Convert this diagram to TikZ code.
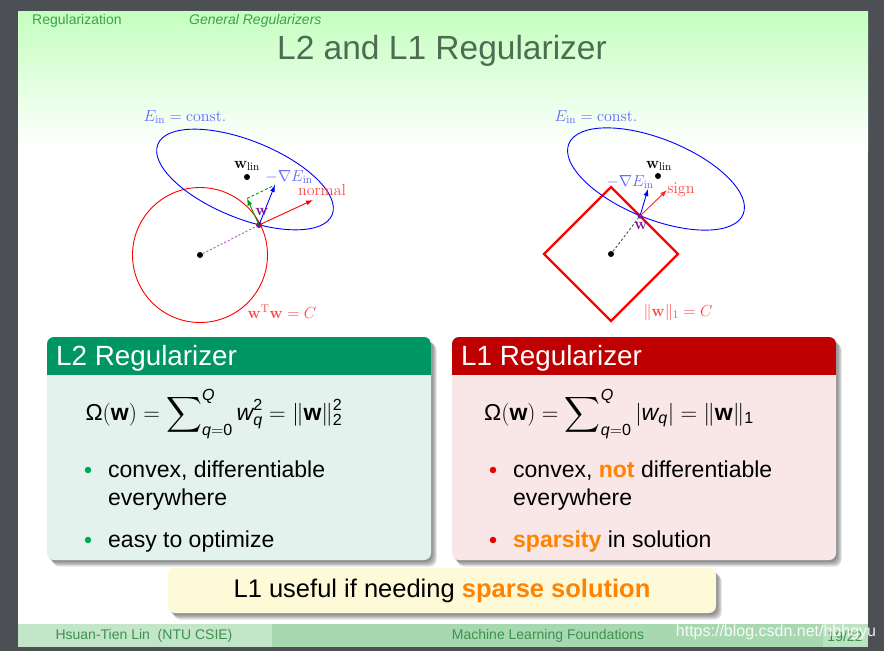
\RequirePackage{fix-cm}
\documentclass[tikz,border=0pt]{standalone}
\usepackage{amsmath}
\usepackage[no-math]{fontspec}
\setmainfont{Liberation Sans}
\usetikzlibrary{arrows.meta}
\definecolor{bgdark}{RGB}{76,79,84}
\definecolor{slidetop}{RGB}{196,255,190}
\definecolor{hdrgreen}{RGB}{60,160,80}
\definecolor{titlecol}{RGB}{78,108,84}
\definecolor{ltwo}{RGB}{0,150,100}
\definecolor{ltwobody}{RGB}{227,242,237}
\definecolor{lone}{RGB}{190,0,0}
\definecolor{lonebody}{RGB}{249,230,230}
\definecolor{noteyel}{RGB}{254,249,214}
\definecolor{footL}{RGB}{196,230,200}
\definecolor{footR}{RGB}{168,216,176}
\definecolor{footP}{RGB}{188,226,194}
\definecolor{foottxt}{RGB}{60,145,80}
\definecolor{orng}{RGB}{255,130,0}
\definecolor{lblue}{RGB}{100,100,255}
\definecolor{lred}{RGB}{255,70,70}
\definecolor{purp}{RGB}{130,20,150}
\definecolor{bulgreen}{RGB}{0,170,80}
\definecolor{bulred}{RGB}{235,0,0}
\tikzset{
  lbl/.style={font=\fontsize{16}{18}\selectfont, inner sep=0pt},
  pt/.style={circle, fill=black, inner sep=0pt, minimum size=6pt},
  arr/.style={-{Latex[length=7pt,width=5pt]}, line width=0.9pt},
  bul/.style={circle, inner sep=0pt, minimum size=6.5pt},
  btxt/.style={anchor=base west, inner sep=0pt, font=\fontsize{23}{27}\selectfont},
  boxtitle/.style={anchor=base west, inner sep=0pt, text=white, font=\fontsize{27.8}{30}\selectfont},
  shadowlayer/.style={fill=black, opacity=0.13, rounded corners=7pt}
}
\begin{document}
\begin{tikzpicture}[x=1pt,y=-1pt]
\useasboundingbox (0,0) rectangle (884,651);
% backgrounds
\fill[bgdark] (0,0) rectangle (884,651);
\shade[top color=slidetop, bottom color=white] (18,11) rectangle (868,150);
\fill[white] (18,150) rectangle (868,624);
\fill[footL] (18,624) rectangle (272,647);
\fill[footR] (272,624) rectangle (868,647);
\fill[footP] (823,624) rectangle (868,647);
% header
\node[anchor=west, inner sep=0pt, text=hdrgreen, font=\fontsize{14}{16}\selectfont] (sec) at (32,21) {Regularization};
\node[anchor=west, inner sep=0pt, text=hdrgreen, font=\fontsize{14}{16}\selectfont\itshape] (subsec) at (189,21) {General Regularizers};
\node[inner sep=0pt, text=titlecol, font=\fontsize{33.5}{38}\selectfont] (title) at (442,51) {L2 and L1 Regularizer};

% ---------------- left diagram (L2)
\draw[red, line width=0.9pt] (200,255) circle (67.5pt);
\draw[blue, line width=0.9pt, rotate around={-22:(245,179.5)}] (245,179.5) ellipse [x radius=94pt, y radius=38.8pt];
\node[pt] (o2) at (200,255) {};
\node[pt] (wl2) at (247,177) {};
\node[pt, fill=purp] (w2) at (259,225) {};
\coordinate (n2) at (313,200);
\coordinate (g2) at (275,185);
\coordinate (t2) at (247,198.5);
\draw[purp!70, line width=0.9pt, dash pattern=on 2pt off 2pt] (o2) -- (w2);
\draw[green!60!black, line width=0.9pt, dash pattern=on 3pt off 2pt] (t2) -- (g2);
\draw[arr, red] (w2.center) -- (n2);
\draw[arr, blue] (w2.center) -- (g2);
\draw[arr, green!60!black] (w2.center) -- (t2);
\node[lbl, text=lblue] (ein2) at (185,117) {$E_{\mathrm{in}} = \mathrm{const.}$};
\node[lbl] (wll2) at (247,166) {$\mathbf{w}_{\mathrm{lin}}$};
\node[lbl, text=lblue] (grad2) at (289,177) {$-\nabla E_{\mathrm{in}}$};
\node[lbl, text=lred] (norm2) at (322,190) {$\mathrm{normal}$};
\node[lbl, text=purp] (wlab2) at (262,212) {$\mathbf{w}$};
\node[lbl, text=lred] (con2) at (282,312) {$\mathbf{w}^{\mathrm{T}}\mathbf{w} = C$};

% ---------------- right diagram (L1)
\draw[red, line width=2.4pt, line join=miter] (611,187) -- (678,254) -- (611,321) -- (544,254) -- cycle;
\draw[blue, line width=0.9pt, rotate around={-22:(656,179)}] (656,179) ellipse [x radius=94pt, y radius=40pt];
\node[pt] (o1) at (611,254) {};
\node[pt] (wl1) at (658,176) {};
\node[pt, fill=purp, minimum size=5pt] (w1) at (640,216) {};
\coordinate (g1) at (648,189);
\coordinate (s1) at (667,190);
\draw[black!70, line width=0.9pt, dash pattern=on 2.5pt off 2pt] (o1) -- (w1);
\draw[arr, blue] (w1.center) -- (g1);
\draw[arr, red!85] (w1.center) -- (s1);
\node[lbl, text=lblue] (ein1) at (596,117) {$E_{\mathrm{in}} = \mathrm{const.}$};
\node[lbl] (wll1) at (659,166) {$\mathbf{w}_{\mathrm{lin}}$};
\node[lbl, text=lblue] (grad1) at (630,182) {$-\nabla E_{\mathrm{in}}$};
\node[lbl, text=lred] (sign1) at (681,190) {$\mathrm{sign}$};
\node[lbl, text=purp] (wlab1) at (641,226) {$\mathbf{w}$};
\node[lbl, text=lred] (con1) at (678,312) {$\|\mathbf{w}\|_1 = C$};

% ---------------- L2 box
\foreach \d/\e in {1.5/2,3/3.5,4.5/5,5.5/6.5}{
  \fill[shadowlayer] (47+\d,337+\e) rectangle (431+\d,560+\e);
}
\fill[ltwobody, rounded corners=7pt] (47,337) rectangle (431,560);
\begin{scope}
  \clip[rounded corners=7pt] (47,337) rectangle (431,560);
  \fill[ltwo] (47,337) rectangle (431,375);
\end{scope}
\node[boxtitle] (t2box) at (56,365) {L2 Regularizer};
\node[inner sep=0pt, font=\fontsize{23}{27}\selectfont] (f2) at (214,414) {$\text{Ω}(\text{\bfseries w}) = \displaystyle\sum\nolimits_{\text{\itshape q}=\text{0}}^{\text{\itshape Q}} \text{\itshape w}_{\text{\itshape q}}^{\text{2}} = \|\text{\bfseries w}\|_{\text{2}}^{\text{2}}$};
\node[bul, fill=bulgreen] (b21) at (88,470) {};
\node[btxt] (l21) at (108,477) {convex, differentiable};
\node[btxt] (l22) at (108,505) {everywhere};
\node[bul, fill=bulgreen] (b22) at (88,540) {};
\node[btxt] (l23) at (108,547) {easy to optimize};

% ---------------- L1 box
\foreach \d/\e in {1.5/2,3/3.5,4.5/5,5.5/6.5}{
  \fill[shadowlayer] (452+\d,337+\e) rectangle (836+\d,560+\e);
}
\fill[lonebody, rounded corners=7pt] (452,337) rectangle (836,560);
\begin{scope}
  \clip[rounded corners=7pt] (452,337) rectangle (836,560);
  \fill[lone] (452,337) rectangle (836,375);
\end{scope}
\node[boxtitle] (t1box) at (461,365) {L1 Regularizer};
\node[inner sep=0pt, font=\fontsize{23}{27}\selectfont] (f1) at (619,414) {$\text{Ω}(\text{\bfseries w}) = \displaystyle\sum\nolimits_{\text{\itshape q}=\text{0}}^{\text{\itshape Q}} |\text{\itshape w}_{\text{\itshape q}}| = \|\text{\bfseries w}\|_{\text{1}}$};
\node[bul, fill=bulred] (b11) at (493,470) {};
\node[btxt] (l11) at (513,477) {convex, \textcolor{orng}{\bfseries not} differentiable};
\node[btxt] (l12) at (513,505) {everywhere};
\node[bul, fill=bulred] (b12) at (493,540) {};
\node[btxt] (l13) at (513,547) {\textcolor{orng}{\bfseries sparsity} in solution};

% ---------------- bottom note
\foreach \d/\e in {1.5/2,3/3.5,4.5/5,5.5/6.5}{
  \fill[shadowlayer] (168+\d,568+\e) rectangle (716+\d,613+\e);
}
\fill[noteyel, rounded corners=7pt] (168,568) rectangle (716,613);
\node[inner sep=0pt, font=\fontsize{25.5}{29}\selectfont] (note) at (442,591) {L1 useful if needing \textcolor{orng}{\bfseries sparse solution}};

% ---------------- footer
\node[inner sep=0pt, text=foottxt, font=\fontsize{14}{16}\selectfont] (auth) at (144,636) {Hsuan-Tien Lin\ \ (NTU CSIE)};
\node[inner sep=0pt, text=foottxt, font=\fontsize{14}{16}\selectfont] (course) at (548,636) {Machine Learning Foundations};
\node[inner sep=0pt, text=foottxt, font=\fontsize{14}{16}\selectfont] (page) at (845,636) {19/22};
\node[inner sep=0pt, text=white, opacity=0.9, font=\fontsize{16}{18}\selectfont] (wm) at (776,632) {https://blog.csdn.net/hbhgyu};
\end{tikzpicture}
\end{document}
